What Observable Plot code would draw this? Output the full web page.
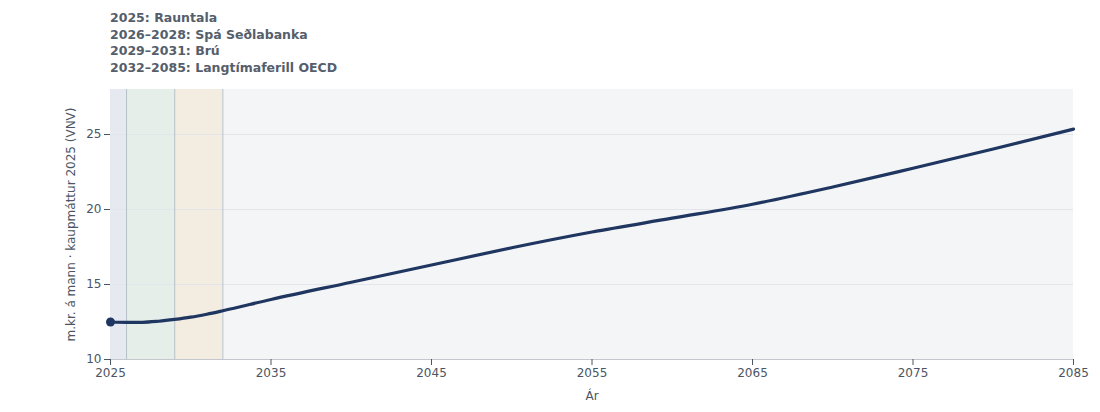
<!DOCTYPE html>
<html>
<head>
<meta charset="utf-8">
<script src="https://cdn.jsdelivr.net/npm/d3@7"></script>
<script src="https://cdn.jsdelivr.net/npm/@observablehq/plot@0.6"></script>
<style>
  body { margin: 0; background: #fff; font-family: "DejaVu Sans", sans-serif; }
  #title { padding: 10px 0 0 110px; font-size: 12.5px; font-weight: bold; color: #555e6b; line-height: 16.5px; height: 66px; }
  #chart svg { display: block; }
</style>
</head>
<body>
<div id="title"></div>
<div id="chart"></div>
<script>
const titleLines = [
  "2025: Rauntala",
  "2026–2028: Spá Seðlabanka",
  "2029–2031: Brú",
  "2032–2085: Langtímaferill OECD"
];
const years  = [2025, 2026, 2027, 2028, 2029, 2030, 2031, 2032, 2035, 2040, 2045, 2050, 2055, 2060, 2065, 2070, 2075, 2080, 2085];
const values = [12.5, 12.48, 12.48, 12.55, 12.67, 12.82, 13.02, 13.25, 14.0, 15.15, 16.3, 17.45, 18.5, 19.42, 20.35, 21.5, 22.75, 24.03, 25.36];
const regionStart = [2025, 2026, 2029, 2032];
const regionEnd   = [2026, 2029, 2032, 2085];
const regionFill  = ["#e6e9ef", "#e5eee9", "#f2ece1", "#f4f5f7"];
const boundaries  = [2026, 2029, 2032];
const xTicks = [2025, 2035, 2045, 2055, 2065, 2075, 2085];
const yTicks = [10, 15, 20, 25];

document.getElementById("title").innerHTML = titleLines.map(t => `<div>${t}</div>`).join("");

const series = years.map((y, i) => ({year: y, value: values[i]}));
const regions = regionStart.map((s, i) => ({x1: s, x2: regionEnd[i], fill: regionFill[i]}));

const chart = Plot.plot({
  width: 1100,
  height: 336,
  marginTop: 13,
  marginBottom: 53,
  marginLeft: 110,
  marginRight: 27,
  style: {fontFamily: "DejaVu Sans, sans-serif", fontSize: "12px", color: "#4b5563", background: "#fff"},
  x: {domain: [2025, 2085], ticks: xTicks, tickFormat: "d", label: "Ár", labelAnchor: "center", labelArrow: "none", labelOffset: 40, tickSize: 5},
  y: {domain: [10, 28], ticks: yTicks, label: "m.kr. á mann · kaupmáttur 2025 (VNV)", labelAnchor: "center", labelArrow: "none", labelOffset: 44, tickSize: 5},
  marks: [
    Plot.rect(regions, {x1: "x1", x2: "x2", fill: d => d.fill}),
    Plot.gridY(yTicks, {stroke: "#e2e5e9", strokeOpacity: 1}),
    Plot.ruleX(boundaries, {stroke: "#b7c0c9", strokeWidth: 1}),
    Plot.ruleY([10], {stroke: "#c4c8ce"}),
    Plot.axisX({ticks: xTicks, tickFormat: "d", stroke: "#4b5563", fill: "#4b5563", label: "Ár", labelAnchor: "center", labelArrow: "none", labelOffset: 40}),
    Plot.axisY({ticks: yTicks, stroke: "#4b5563", fill: "#4b5563", label: "m.kr. á mann · kaupmáttur 2025 (VNV)", labelAnchor: "center", labelArrow: "none", labelOffset: 44}),
    Plot.line(series, {x: "year", y: "value", stroke: "#1f3660", strokeWidth: 3.2, curve: "monotone-x"}),
    Plot.dot(series.slice(0, 1), {x: "year", y: "value", r: 4.5, fill: "#1f3660", stroke: "none"})
  ]
});
document.getElementById("chart").appendChild(chart);
</script>
</body>
</html>
